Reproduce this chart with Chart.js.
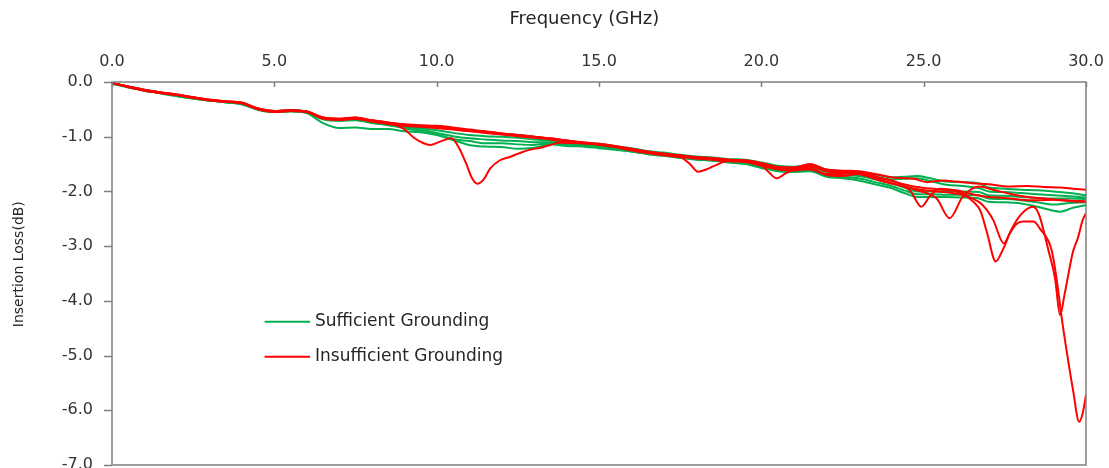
<!DOCTYPE html>
<html>
<head>
<meta charset="utf-8">
<script src="https://cdn.jsdelivr.net/npm/chart.js"></script>
<style>
  html, body { margin: 0; padding: 0; background: #fff; }
  #wrap { width: 1109px; height: 468px; }
</style>
</head>
<body>
<div id="wrap"><canvas id="lossChart" width="1109" height="468"></canvas></div>
<script>
// insertion loss vs frequency, [GHz, dB] pairs
const green1 = [[0,-0.02],[0.5,-0.09],[1,-0.15],[1.5,-0.2],[2,-0.24],[2.5,-0.29],[3,-0.33],[3.5,-0.37],[4,-0.4],[4.5,-0.5],[5,-0.53],[5.5,-0.51],[6,-0.55],[6.5,-0.67],[7,-0.69],[7.5,-0.67],[8,-0.72],[8.5,-0.75],[9,-0.78],[9.5,-0.8],[10,-0.82],[10.5,-0.85],[11,-0.88],[11.5,-0.91],[12,-0.95],[12.5,-0.97],[13,-1.0],[13.5,-1.04],[14,-1.07],[14.5,-1.11],[15,-1.13],[15.5,-1.17],[16,-1.21],[16.5,-1.26],[17,-1.29],[17.5,-1.33],[18,-1.36],[18.5,-1.38],[19,-1.41],[19.5,-1.42],[20,-1.47],[20.5,-1.53],[21,-1.55],[21.5,-1.52],[22,-1.6],[22.5,-1.63],[23,-1.64],[23.5,-1.69],[24,-1.74],[24.4,-1.73],[24.8,-1.72],[25.2,-1.76],[25.7,-1.82],[26.2,-1.83],[26.7,-1.85],[27,-1.93],[27.5,-1.95],[28,-1.97],[28.5,-1.98],[29,-2.0],[29.5,-2.03],[30,-2.07]];
const green2 = [[0,-0.02],[0.5,-0.08],[1,-0.14],[1.5,-0.19],[2,-0.25],[2.5,-0.3],[3,-0.34],[3.5,-0.36],[4,-0.39],[4.5,-0.49],[5,-0.54],[5.5,-0.52],[6,-0.54],[6.5,-0.66],[7,-0.7],[7.5,-0.68],[8,-0.73],[8.5,-0.77],[9,-0.8],[9.5,-0.84],[10,-0.88],[10.5,-0.93],[11,-0.97],[11.5,-0.99],[12,-1.0],[12.5,-1.02],[13,-1.05],[13.5,-1.07],[14,-1.09],[14.5,-1.12],[15,-1.15],[15.5,-1.19],[16,-1.24],[16.5,-1.28],[17,-1.32],[17.5,-1.35],[18,-1.38],[18.5,-1.4],[19,-1.43],[19.5,-1.45],[20,-1.5],[20.5,-1.56],[21,-1.58],[21.5,-1.56],[22,-1.64],[22.5,-1.66],[23,-1.68],[23.5,-1.73],[24,-1.78],[24.4,-1.77],[24.8,-1.76],[25.2,-1.81],[25.7,-1.88],[26.2,-1.9],[26.7,-1.94],[27,-2.0],[27.5,-2.01],[28,-2.03],[28.5,-2.05],[29,-2.07],[29.5,-2.09],[30,-2.11]];
const green3 = [[0,-0.03],[0.5,-0.09],[1,-0.16],[1.5,-0.2],[2,-0.25],[2.5,-0.29],[3,-0.34],[3.5,-0.37],[4,-0.4],[4.5,-0.5],[5,-0.55],[5.5,-0.53],[6,-0.56],[6.5,-0.67],[7,-0.7],[7.5,-0.69],[8,-0.74],[8.5,-0.78],[9,-0.82],[9.5,-0.87],[10,-0.93],[10.5,-0.99],[11,-1.03],[11.5,-1.05],[12,-1.07],[12.5,-1.08],[13,-1.1],[13.5,-1.1],[14,-1.12],[14.5,-1.14],[15,-1.17],[15.5,-1.21],[16,-1.25],[16.5,-1.29],[17,-1.33],[17.5,-1.37],[18,-1.4],[18.5,-1.42],[19,-1.45],[19.5,-1.47],[20,-1.53],[20.5,-1.59],[21,-1.62],[21.5,-1.6],[22,-1.68],[22.5,-1.7],[23,-1.72],[23.5,-1.78],[24,-1.85],[24.4,-1.93],[24.8,-2.0],[25.2,-2.0],[25.7,-2.0],[26.2,-2.0],[26.7,-2.01],[27,-2.07],[27.5,-2.08],[28,-2.1],[28.5,-2.12],[29,-2.13],[29.5,-2.13],[30,-2.14]];
const green4 = [[0,-0.02],[0.5,-0.1],[1,-0.15],[1.5,-0.21],[2,-0.26],[2.5,-0.3],[3,-0.33],[3.5,-0.37],[4,-0.41],[4.5,-0.51],[5,-0.55],[5.5,-0.54],[6,-0.56],[6.5,-0.68],[7,-0.71],[7.5,-0.7],[8,-0.75],[8.5,-0.79],[9,-0.84],[9.5,-0.9],[10,-0.96],[10.5,-1.04],[11,-1.08],[11.5,-1.12],[12,-1.12],[12.5,-1.14],[13,-1.15],[13.5,-1.12],[14,-1.14],[14.5,-1.16],[15,-1.19],[15.5,-1.23],[16,-1.27],[16.5,-1.31],[17,-1.34],[17.5,-1.38],[18,-1.42],[18.5,-1.43],[19,-1.46],[19.5,-1.49],[20,-1.56],[20.5,-1.62],[21,-1.64],[21.5,-1.62],[22,-1.71],[22.5,-1.73],[23,-1.76],[23.5,-1.83],[24,-1.9],[24.4,-1.98],[24.8,-2.05],[25.2,-2.05],[25.7,-2.06],[26.2,-2.06],[26.7,-2.07],[27,-2.13],[27.5,-2.14],[28,-2.16],[28.5,-2.2],[29,-2.24],[29.5,-2.21],[30,-2.2]];
const green5 = [[0,-0.03],[0.5,-0.09],[1,-0.16],[1.5,-0.2],[2,-0.25],[2.5,-0.3],[3,-0.34],[3.5,-0.36],[4,-0.4],[4.5,-0.5],[5,-0.54],[5.5,-0.53],[6,-0.57],[6.5,-0.75],[7,-0.84],[7.5,-0.83],[8,-0.86],[8.5,-0.86],[9,-0.9],[9.5,-0.92],[10,-0.97],[10.5,-1.06],[11,-1.15],[11.5,-1.18],[12,-1.19],[12.5,-1.22],[13,-1.2],[13.5,-1.14],[14,-1.17],[14.5,-1.18],[15,-1.21],[15.5,-1.24],[16,-1.27],[16.5,-1.32],[17,-1.35],[17.5,-1.39],[18,-1.41],[18.5,-1.44],[19,-1.47],[19.5,-1.5],[20,-1.57],[20.5,-1.63],[21,-1.64],[21.5,-1.63],[22,-1.73],[22.5,-1.76],[23,-1.8],[23.5,-1.87],[24,-1.94],[24.4,-2.03],[24.8,-2.1],[25.2,-2.1],[25.7,-2.1],[26.2,-2.11],[26.7,-2.13],[27,-2.19],[27.5,-2.2],[28,-2.22],[28.5,-2.28],[28.9,-2.34],[29.2,-2.37],[29.6,-2.3],[30,-2.25]];

const red1 = [[0,-0.02],[0.5,-0.08],[1,-0.15],[1.5,-0.19],[2,-0.24],[2.5,-0.28],[3,-0.33],[3.5,-0.36],[4,-0.38],[4.5,-0.49],[5,-0.54],[5.5,-0.52],[6,-0.54],[6.5,-0.65],[7,-0.68],[7.5,-0.65],[8,-0.7],[8.5,-0.74],[9,-0.86],[9.3,-1.02],[9.6,-1.12],[9.8,-1.15],[10.1,-1.09],[10.45,-1.03],[10.7,-1.22],[10.9,-1.48],[11.1,-1.77],[11.25,-1.86],[11.45,-1.78],[11.65,-1.58],[11.95,-1.43],[12.25,-1.37],[12.55,-1.3],[12.85,-1.24],[13.2,-1.2],[13.5,-1.15],[13.8,-1.11],[14.5,-1.12],[15,-1.14],[15.5,-1.18],[16,-1.22],[16.5,-1.27],[17,-1.31],[17.5,-1.34],[18,-1.37],[18.5,-1.39],[19,-1.42],[19.5,-1.43],[20,-1.48],[20.5,-1.55],[21,-1.56],[21.5,-1.5],[22,-1.6],[22.5,-1.62],[23,-1.63],[23.5,-1.68],[24,-1.74],[24.7,-1.77],[25.1,-1.83],[25.6,-1.8],[26,-1.82],[26.5,-1.85],[27,-1.87],[27.6,-1.91],[28.2,-1.9],[28.7,-1.92],[29.2,-1.93],[29.6,-1.95],[30,-1.97]];
const red2 = [[0,-0.02],[0.5,-0.09],[1,-0.15],[1.5,-0.19],[2,-0.23],[2.5,-0.28],[3,-0.33],[3.5,-0.35],[4,-0.38],[4.5,-0.48],[5,-0.53],[5.5,-0.51],[6,-0.54],[6.5,-0.65],[7,-0.67],[7.5,-0.66],[8,-0.71],[8.5,-0.75],[9,-0.77],[9.5,-0.79],[10,-0.8],[10.5,-0.83],[11,-0.87],[11.5,-0.9],[12,-0.94],[12.5,-0.97],[13,-1.0],[13.5,-1.03],[14,-1.07],[14.5,-1.1],[15,-1.13],[15.5,-1.17],[16,-1.23],[16.5,-1.28],[17,-1.32],[17.5,-1.37],[17.8,-1.5],[18.05,-1.64],[18.3,-1.6],[18.6,-1.52],[19,-1.44],[19.5,-1.44],[20,-1.5],[20.5,-1.57],[21,-1.58],[21.5,-1.53],[22,-1.62],[22.5,-1.64],[23,-1.66],[23.6,-1.75],[24.2,-1.84],[24.6,-2.0],[24.93,-2.28],[25.2,-2.08],[25.5,-1.95],[26,-1.98],[26.5,-2.05],[27,-2.1],[27.5,-2.12],[28,-2.15],[28.5,-2.16],[29,-2.15],[29.5,-2.17],[30,-2.18]];
const red3 = [[0,-0.02],[0.5,-0.09],[1,-0.16],[1.5,-0.2],[2,-0.24],[2.5,-0.29],[3,-0.34],[3.5,-0.36],[4,-0.39],[4.5,-0.5],[5,-0.55],[5.5,-0.53],[6,-0.55],[6.5,-0.67],[7,-0.69],[7.5,-0.67],[8,-0.72],[8.5,-0.77],[9,-0.79],[9.5,-0.81],[10,-0.83],[10.5,-0.86],[11,-0.89],[11.5,-0.92],[12,-0.95],[12.5,-0.98],[13,-1.01],[13.5,-1.04],[14,-1.08],[14.5,-1.11],[15,-1.14],[15.5,-1.18],[16,-1.24],[16.5,-1.29],[17,-1.33],[17.5,-1.36],[18,-1.39],[18.5,-1.41],[19,-1.43],[19.5,-1.45],[20,-1.52],[20.25,-1.66],[20.47,-1.76],[20.75,-1.67],[21,-1.6],[21.5,-1.55],[22,-1.63],[22.5,-1.66],[23,-1.68],[23.6,-1.78],[24.2,-1.88],[24.8,-1.98],[25.4,-2.13],[25.8,-2.49],[26.2,-2.1],[26.7,-1.91],[27.2,-1.98],[27.7,-2.05],[28.2,-2.1],[28.7,-2.13],[29.2,-2.16],[29.6,-2.18],[30,-2.19]];
const red4 = [[0,-0.02],[0.5,-0.08],[1,-0.14],[1.5,-0.19],[2,-0.23],[2.5,-0.28],[3,-0.32],[3.5,-0.35],[4,-0.38],[4.5,-0.49],[5,-0.53],[5.5,-0.52],[6,-0.54],[6.5,-0.66],[7,-0.67],[7.5,-0.65],[8,-0.7],[8.5,-0.74],[9,-0.78],[9.5,-0.8],[10,-0.82],[10.5,-0.84],[11,-0.88],[11.5,-0.91],[12,-0.94],[12.5,-0.97],[13,-1.0],[13.5,-1.03],[14,-1.07],[14.5,-1.11],[15,-1.14],[15.5,-1.18],[16,-1.23],[16.5,-1.28],[17,-1.31],[17.5,-1.35],[18,-1.38],[18.5,-1.4],[19,-1.42],[19.5,-1.44],[20,-1.49],[20.5,-1.56],[21,-1.6],[21.5,-1.6],[22,-1.7],[22.5,-1.72],[23,-1.68],[23.6,-1.79],[24.2,-1.88],[24.8,-1.96],[25.4,-2.0],[26,-2.04],[26.3,-2.09],[26.55,-2.2],[26.75,-2.36],[26.95,-2.75],[27.22,-3.28],[27.45,-3.05],[27.7,-2.7],[28,-2.42],[28.37,-2.28],[28.55,-2.42],[28.84,-3.07],[29.05,-3.6],[29.2,-4.26],[29.35,-3.85],[29.6,-3.1],[29.75,-2.85],[29.9,-2.52],[30,-2.4]];
const red5 = [[0,-0.02],[0.5,-0.09],[1,-0.15],[1.5,-0.2],[2,-0.24],[2.5,-0.29],[3,-0.33],[3.5,-0.36],[4,-0.39],[4.5,-0.5],[5,-0.54],[5.5,-0.53],[6,-0.55],[6.5,-0.66],[7,-0.69],[7.5,-0.67],[8,-0.72],[8.5,-0.76],[9,-0.8],[9.5,-0.82],[10,-0.84],[10.5,-0.87],[11,-0.9],[11.5,-0.93],[12,-0.96],[12.5,-0.99],[13,-1.02],[13.5,-1.05],[14,-1.09],[14.5,-1.12],[15,-1.15],[15.5,-1.19],[16,-1.25],[16.5,-1.3],[17,-1.34],[17.5,-1.37],[18,-1.4],[18.5,-1.42],[19,-1.45],[19.5,-1.46],[20,-1.53],[20.5,-1.6],[21,-1.62],[21.5,-1.58],[22,-1.68],[22.5,-1.68],[23,-1.65],[23.6,-1.74],[24.2,-1.84],[24.8,-1.92],[25.4,-1.96],[26,-2.0],[26.4,-2.1],[26.8,-2.24],[27.14,-2.52],[27.47,-2.95],[27.66,-2.76],[27.85,-2.6],[28.07,-2.55],[28.38,-2.55],[28.58,-2.68],[28.94,-3.07],[29.1,-3.62],[29.25,-4.3],[29.4,-4.9],[29.6,-5.63],[29.79,-6.21],[29.9,-6.05],[30,-5.72]];

const greenSeries = [green1, green2, green3, green4, green5];
const redSeries = [red1, red2, red3, red4, red5];
const legendNames = ['Sufficient Grounding', 'Insufficient Grounding'];

const GREEN = '#00b050';
const RED = '#ff0000';
const AXIS = '#7f7f7f';
const FONT = 'DejaVu Sans';

function line(points, color, name) {
  return {
    label: name,
    data: points,
    borderColor: color,
    backgroundColor: color,
    borderWidth: 2,
    pointRadius: 0,
    fill: false,
    cubicInterpolationMode: 'monotone'
  };
}

// chart.js paints dataset 0 last, so the red ones go first to sit on top
const datasets = [];
redSeries.forEach(s => datasets.push(line(s, RED, legendNames[1])));
greenSeries.forEach(s => datasets.push(line(s, GREEN, legendNames[0])));

// frame, inward ticks on top axis, outward on left, titles and the legend inside the plot
const framePlugin = {
  id: 'frame',
  afterDraw(chart) {
    const {ctx, chartArea: a, scales: {x, y}} = chart;
    ctx.save();
    ctx.strokeStyle = AXIS;
    ctx.lineWidth = 1.5;
    ctx.strokeRect(a.left, a.top, a.right - a.left, a.bottom - a.top);
    ctx.beginPath();
    x.ticks.forEach(t => {
      const px = Math.round(x.getPixelForValue(t.value)) + 0.5;
      ctx.moveTo(px, a.top);
      ctx.lineTo(px, a.top + 5);
    });
    y.ticks.forEach(t => {
      const py = Math.round(y.getPixelForValue(t.value)) + 0.5;
      ctx.moveTo(a.left - 8, py);
      ctx.lineTo(a.left, py);
    });
    ctx.stroke();

    // axis titles (a bit off-centre in the original)
    ctx.fillStyle = '#262626';
    ctx.textAlign = 'center';
    ctx.textBaseline = 'middle';
    ctx.font = '18px "' + FONT + '"';
    ctx.fillText('Frequency (GHz)', x.getPixelForValue(14.55), 19);
    ctx.save();
    ctx.translate(19, y.getPixelForValue(-3.33));
    ctx.rotate(-Math.PI / 2);
    ctx.font = '14px "' + FONT + '"';
    ctx.fillText('Insertion Loss(dB)', 0, 0);
    ctx.restore();

    // legend
    const lx = x.getPixelForValue(4.7);
    const lx2 = x.getPixelForValue(6.1);
    const ly = y.getPixelForValue(-4.38);
    ctx.font = '17px "' + FONT + '"';
    ctx.textAlign = 'left';
    [GREEN, RED].forEach((c, i) => {
      const yy = ly + i * 35;
      ctx.strokeStyle = c;
      ctx.lineWidth = 2;
      ctx.beginPath();
      ctx.moveTo(lx, yy);
      ctx.lineTo(lx2, yy);
      ctx.stroke();
      ctx.fillText(legendNames[i], lx2 + 5, yy);
    });
    ctx.restore();
  }
};

const config = {
  type: 'line',
  data: { datasets: datasets },
  options: {
    responsive: false,
    animation: false,
    devicePixelRatio: 1,
    layout: { padding: { left: 0, right: 23, top: 0, bottom: 3 } },
    plugins: {
      legend: { display: false },
      tooltip: { enabled: false }
    },
    scales: {
      x: {
        type: 'linear',
        position: 'top',
        min: 0,
        max: 30,
        grid: { display: false, drawTicks: false },
        border: { display: false },
        ticks: {
          stepSize: 5,
          padding: 11,
          color: '#333',
          font: { family: FONT, size: 16 },
          callback: v => v.toFixed(1)
        },
        afterFit: s => { s.height = 82; s.paddingLeft = 0; s.paddingRight = 0; }
      },
      y: {
        type: 'linear',
        min: -7,
        max: 0,
        grid: { display: false, drawTicks: false },
        border: { display: false },
        ticks: {
          stepSize: 1,
          padding: 19,
          color: '#333',
          font: { family: FONT, size: 16 },
          callback: v => v.toFixed(1)
        },
        afterFit: s => { s.width = 112; s.paddingTop = 0; s.paddingBottom = 0; }
      }
    }
  },
  plugins: [framePlugin]
};

const lossChart = new Chart(document.getElementById('lossChart'), config);
</script>
</body>
</html>
